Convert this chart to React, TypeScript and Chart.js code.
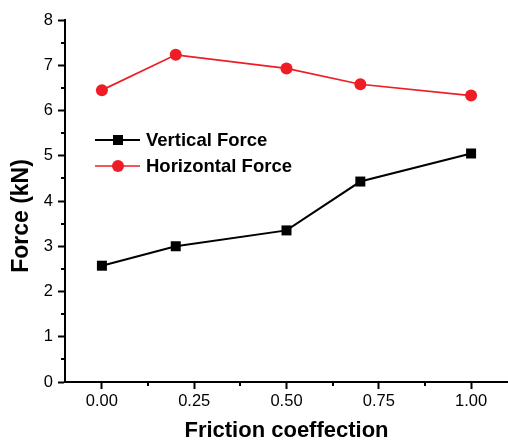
import React, { useEffect, useRef } from 'react';
import { Chart, registerables } from 'chart.js';

Chart.register(...registerables);

const frictionCoefficients = [0, 0.2, 0.5, 0.7, 1.0];
const verticalForce = [2.57, 3.0, 3.35, 4.43, 5.05];
const horizontalForce = [6.45, 7.23, 6.93, 6.58, 6.33];
const xMajorTicks = [0, 0.25, 0.5, 0.75, 1.0];
const xMinorTicks = [0.125, 0.375, 0.625, 0.875];
const yMajorTicks = [0, 1, 2, 3, 4, 5, 6, 7, 8];
const yMinorTicks = [0.5, 1.5, 2.5, 3.5, 4.5, 5.5, 6.5, 7.5];
const seriesNames = ['Vertical Force', 'Horizontal Force'];
const xTitle = 'Friction coeffection';
const yTitle = 'Force (kN)';

const BLACK = '#000000';
const RED = '#ee1c25';
const FONT = 'Arial, "Liberation Sans", sans-serif';

const decorPlugin = {
  id: 'decor',
  afterDraw(chart: any) {
    const ctx = chart.ctx;
    const xs = chart.scales.x;
    const ys = chart.scales.y;
    const area = chart.chartArea;
    ctx.save();
    // minor ticks
    ctx.strokeStyle = BLACK;
    ctx.lineWidth = 2;
    ctx.beginPath();
    xMinorTicks.forEach((v) => {
      const px = Math.round(xs.getPixelForValue(v));
      ctx.moveTo(px, area.bottom);
      ctx.lineTo(px, area.bottom + 4);
    });
    yMinorTicks.forEach((v) => {
      const py = Math.round(ys.getPixelForValue(v));
      ctx.moveTo(area.left, py);
      ctx.lineTo(area.left - 4, py);
    });
    ctx.stroke();

    // y title
    ctx.save();
    ctx.translate(22, 216);
    ctx.rotate(-Math.PI / 2);
    ctx.font = `bold 23px ${FONT}`;
    ctx.fillStyle = BLACK;
    ctx.textAlign = 'center';
    ctx.textBaseline = 'middle';
    ctx.fillText(yTitle, 0, 0);
    ctx.restore();

    // legend
    const rows = [
      { name: seriesNames[0], color: BLACK, y: 140, style: 'rect', lw: 2 },
      { name: seriesNames[1], color: RED, y: 166, style: 'circle', lw: 1.5 },
    ];
    const x0 = 95;
    const x1 = 140;
    const xc = 118;
    rows.forEach((r) => {
      ctx.strokeStyle = r.color;
      ctx.fillStyle = r.color;
      ctx.lineWidth = r.lw;
      ctx.beginPath();
      ctx.moveTo(x0, r.y);
      ctx.lineTo(x1, r.y);
      ctx.stroke();
      ctx.beginPath();
      if (r.style === 'rect') {
        ctx.rect(xc - 5, r.y - 5, 10, 10);
      } else {
        ctx.arc(xc, r.y, 6, 0, Math.PI * 2);
      }
      ctx.fill();
      ctx.fillStyle = BLACK;
      ctx.font = `bold 18.5px ${FONT}`;
      ctx.textAlign = 'left';
      ctx.textBaseline = 'middle';
      ctx.fillText(r.name, 146, r.y + 1);
    });
    ctx.restore();
  },
};

export default function App() {
  const canvasRef = useRef<HTMLCanvasElement | null>(null);

  useEffect(() => {
    if (!canvasRef.current) return;
    const chart = new Chart(canvasRef.current, {
      type: 'line',
      data: {
        datasets: [
          {
            label: seriesNames[0],
            data: frictionCoefficients.map((x, i) => ({ x, y: verticalForce[i] })),
            borderColor: BLACK,
            backgroundColor: BLACK,
            borderWidth: 2,
            pointStyle: 'rect',
            pointRadius: 7.07,
            pointBorderWidth: 0,
            pointBackgroundColor: BLACK,
            tension: 0,
          },
          {
            label: seriesNames[1],
            data: frictionCoefficients.map((x, i) => ({ x, y: horizontalForce[i] })),
            borderColor: RED,
            backgroundColor: RED,
            borderWidth: 1.7,
            pointStyle: 'circle',
            pointRadius: 6,
            pointBorderWidth: 0,
            pointBackgroundColor: RED,
            tension: 0,
          },
        ],
      },
      options: {
        responsive: false,
        animation: false,
        events: [],
        layout: { autoPadding: false, padding: { top: 20, right: 0, left: 0, bottom: 0 } },
        plugins: {
          legend: { display: false },
          tooltip: { enabled: false },
        },
        scales: {
          x: {
            type: 'linear',
            min: -0.1,
            max: 1.1,
            afterBuildTicks: (s: any) => {
              s.ticks = xMajorTicks.map((v) => ({ value: v }));
            },
            afterFit: (s: any) => {
              s.height = 59;
              s.paddingLeft = 0;
              s.paddingRight = 0;
            },
            ticks: {
              color: BLACK,
              font: { family: FONT, size: 16.5 },
              padding: 3,
              maxRotation: 0,
              callback: (v: any) => Number(v).toFixed(2),
            },
            grid: {
              display: true,
              drawOnChartArea: false,
              drawTicks: true,
              tickLength: 7,
              tickWidth: 2,
              tickColor: BLACK,
            },
            border: { display: true, color: BLACK, width: 2 },
            title: {
              display: true,
              text: xTitle,
              color: BLACK,
              font: { family: FONT, size: 22, weight: 'bold' },
              padding: { top: 0, bottom: -3 },
            },
          },
          y: {
            type: 'linear',
            min: 0,
            max: 8,
            afterBuildTicks: (s: any) => {
              s.ticks = yMajorTicks.map((v) => ({ value: v }));
            },
            afterFit: (s: any) => {
              s.width = 65;
              s.paddingTop = 0;
              s.paddingBottom = 0;
            },
            ticks: {
              color: BLACK,
              font: { family: FONT, size: 16.5 },
              padding: 5,
              callback: (v: any) => String(v),
            },
            grid: {
              display: true,
              drawOnChartArea: false,
              drawTicks: true,
              tickLength: 7,
              tickWidth: 2,
              tickColor: BLACK,
            },
            border: { display: true, color: BLACK, width: 2 },
          },
        },
      },
      plugins: [decorPlugin],
    } as any);
    return () => chart.destroy();
  }, []);

  return (
    <div style={{ position: 'absolute', left: 0, top: 0, width: 508, height: 441, background: '#fff' }}>
      <canvas ref={canvasRef} width={508} height={441} style={{ display: 'block' }} />
    </div>
  );
}
